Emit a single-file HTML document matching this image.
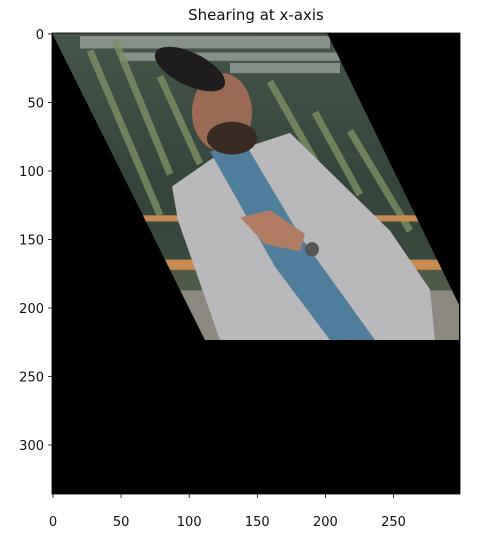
<!DOCTYPE html>
<html><head><meta charset="utf-8"><style>
html,body{margin:0;padding:0;background:#fff;}
svg{display:block;font-family:"DejaVu Sans","Liberation Sans",sans-serif;}
</style></head><body>
<svg id="chart" width="492" height="537" viewBox="0 0 492 537" xmlns="http://www.w3.org/2000/svg">
<defs>
<clipPath id="pclip"><polygon points="52,33 327,33 459,297 459,331 205,331"/></clipPath>
<linearGradient id="bg" x1="0" y1="0" x2="0" y2="1">
<stop offset="0" stop-color="#46554a"/><stop offset="0.5" stop-color="#34443a"/><stop offset="1" stop-color="#3e4e40"/>
</linearGradient>
</defs>
<text x="256" y="20" font-size="15" text-anchor="middle" fill="#111">Shearing at x-axis</text>
<rect x="52" y="33" width="408" height="461" fill="#000"/>
<g transform="translate(0,33) scale(1,1.03) translate(0,-33)">
<g clip-path="url(#pclip)">
<rect x="40" y="30" width="430" height="310" fill="url(#bg)"/>
<g fill="#c9d0cc" opacity="0.5">
<rect x="80" y="36" width="250" height="12"/><rect x="120" y="52" width="220" height="8"/><rect x="230" y="62" width="110" height="10"/>
</g>
<g stroke="#7e8f62" stroke-width="7" opacity="0.8">
<line x1="90" y1="50" x2="160" y2="210"/><line x1="115" y1="40" x2="170" y2="170"/><line x1="160" y1="75" x2="200" y2="160"/>
<line x1="270" y1="80" x2="340" y2="200"/><line x1="315" y1="110" x2="360" y2="190"/><line x1="350" y1="128" x2="410" y2="225"/>
</g>
<g fill="#c98a52">
<rect x="140" y="210" width="320" height="6"/><rect x="150" y="253" width="320" height="10"/>
</g>
<rect x="170" y="263" width="300" height="20" fill="#4e5a48"/>
<rect x="170" y="283" width="300" height="48" fill="#8c8a80"/>
<polygon fill="#b9b8bb" points="172,182 212,155 290,130 330,168 390,225 430,282 435,331 220,331 178,215"/>
<polygon fill="#4f7d9c" points="210,148 245,140 300,230 375,331 330,331 275,260"/>
<polygon fill="#b07c62" points="240,212 270,205 305,228 300,245 265,238"/>
<circle cx="312" cy="243" r="7" fill="#555"/>
<ellipse cx="222" cy="110" rx="30" ry="38" fill="#9c6a52"/>
<ellipse cx="232" cy="135" rx="25" ry="16" fill="#3a2a24"/>
<ellipse cx="190" cy="68" rx="38" ry="16" fill="#1e1c1c" transform="rotate(25 190 68)"/>
</g>
</g>
<g id="xaxis"></g>
<g id="yaxis"></g>
<rect x="52" y="33" width="408" height="461" fill="none" stroke="#000" stroke-width="0.8"/>
<script>
const xTicks = [0, 50, 100, 150, 200, 250];
const yTicks = [0, 50, 100, 150, 200, 250, 300];
const ns = "http://www.w3.org/2000/svg";
function xs(v){ return 53 + v * 1.362; }
function ys(v){ return 34 + v * 1.37; }
const xg = document.getElementById('xaxis');
xTicks.forEach(v => {
  const l = document.createElementNS(ns, 'line');
  
  
  l.setAttribute('x1', xs(v)); l.setAttribute('x2', xs(v));
  l.setAttribute('y1', 494); l.setAttribute('y2', 498);
  l.setAttribute('stroke', '#000'); l.setAttribute('stroke-width', '0.8');
  xg.appendChild(l);
  const t = document.createElementNS(ns, 'text');
  
  
  t.setAttribute('x', xs(v)); t.setAttribute('y', 526);
  t.setAttribute('font-size', '13'); t.setAttribute('text-anchor', 'middle'); t.setAttribute('fill', '#111');
  t.textContent = v;
  xg.appendChild(t);
});
const yg = document.getElementById('yaxis');
yTicks.forEach(v => {
  const l = document.createElementNS(ns, 'line');
  
  
  l.setAttribute('x1', 48); l.setAttribute('x2', 52);
  l.setAttribute('y1', ys(v)); l.setAttribute('y2', ys(v));
  l.setAttribute('stroke', '#000'); l.setAttribute('stroke-width', '0.8');
  yg.appendChild(l);
  const t = document.createElementNS(ns, 'text');
  
  
  t.setAttribute('x', 44); t.setAttribute('y', ys(v) + 5);
  t.setAttribute('font-size', '13'); t.setAttribute('text-anchor', 'end'); t.setAttribute('fill', '#111');
  t.textContent = v;
  yg.appendChild(t);
});
</script>
</svg>
</body></html>
